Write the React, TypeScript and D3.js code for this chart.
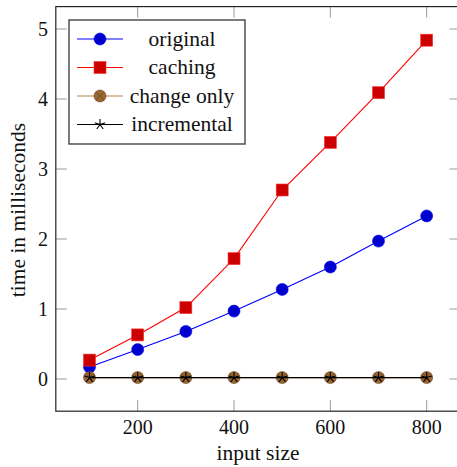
import React from 'react';
import * as d3 from 'd3';

const sizes = [100, 200, 300, 400, 500, 600, 700, 800];
const original = [0.17, 0.42, 0.68, 0.97, 1.28, 1.6, 1.97, 2.33];
const caching = [0.27, 0.63, 1.02, 1.72, 2.7, 3.38, 4.09, 4.84];
const changeOnly = [0.02, 0.02, 0.02, 0.02, 0.02, 0.02, 0.02, 0.02];
const incremental = [0.02, 0.02, 0.02, 0.02, 0.02, 0.02, 0.02, 0.02];
const seriesNames = ['original', 'caching', 'change only', 'incremental'];
const xTicks = [200, 400, 600, 800];
const yTicks = [0, 1, 2, 3, 4, 5];

const FONT = '"Liberation Serif", "DejaVu Serif", serif';

type Mark = 'circle' | 'square' | 'otimes' | 'star';

const series = [
  { name: seriesNames[0], values: original, line: '#0000ff', fill: '#0000cc', stroke: '#0000ff', mark: 'circle' as Mark },
  { name: seriesNames[1], values: caching, line: '#ff0000', fill: '#cc0000', stroke: '#ff3333', mark: 'square' as Mark },
  { name: seriesNames[2], values: changeOnly, line: '#bf8040', fill: '#996633', stroke: '#6b4520', mark: 'otimes' as Mark },
  { name: seriesNames[3], values: incremental, line: '#000000', fill: '#000000', stroke: '#000000', mark: 'star' as Mark },
];

function Marker({ type, x, y, fill, stroke }: { type: Mark; x: number; y: number; fill: string; stroke: string }) {
  if (type === 'circle') return <circle cx={x} cy={y} r={6} fill={fill} stroke={stroke} strokeWidth={0.6} />;
  if (type === 'square') return <rect x={x - 6} y={y - 6} width={12} height={12} fill={fill} stroke={stroke} strokeWidth={0.6} />;
  if (type === 'otimes') {
    const d = 4.2;
    return (
      <g>
        <circle cx={x} cy={y} r={6} fill={fill} stroke={stroke} strokeWidth={0.6} />
        <path d={`M${x - d},${y - d}L${x + d},${y + d}M${x - d},${y + d}L${x + d},${y - d}`} stroke={stroke} strokeWidth={0.6} />
      </g>
    );
  }
  const r = 5.5;
  const p = d3.range(5).map(i => {
    const a = -Math.PI / 2 + (i * 2 * Math.PI) / 5;
    return `M${x},${y}L${x + r * Math.cos(a)},${y + r * Math.sin(a)}`;
  }).join('');
  return <path d={p} stroke={stroke} strokeWidth={1.1} fill="none" />;
}

export default function App() {
  const x = d3.scaleLinear().domain([30, 870]).range([55.8, 460.4]);
  const y = d3.scaleLinear().domain([-0.46, 5.32]).range([411.2, 6.6]);
  const [x0, x1] = x.range();
  const [y0, y1] = y.range();

  const line = d3.line<number>()
    .x((_, i) => x(sizes[i]))
    .y(d => y(d));

  const legX = 69, legY = 20, legW = 176, legH = 124;
  const rowH = 28.5;
  const txt = { fontFamily: FONT };

  return (
    <svg width={457} height={467} style={{ position: 'fixed', left: 0, top: 0, background: '#fff' }}>
      {/* ticks */}
      {xTicks.map(t => (
        <g key={'xt' + t} stroke="#999" strokeWidth={1}>
          <line x1={x(t)} x2={x(t)} y1={y0} y2={y0 - 11} />
          <line x1={x(t)} x2={x(t)} y1={y1} y2={y1 + 11} />
        </g>
      ))}
      {yTicks.map(t => (
        <g key={'yt' + t} stroke="#999" strokeWidth={1}>
          <line x1={x0} x2={x0 + 11} y1={y(t)} y2={y(t)} />
          <line x1={x1} x2={x1 - 11} y1={y(t)} y2={y(t)} />
        </g>
      ))}

      {/* series */}
      {series.map(s => (
        <g key={s.name}>
          <path d={line(s.values) || ''} fill="none" stroke={s.line} strokeWidth={1.1} />
          {s.values.map((v, i) => (
            <Marker key={i} type={s.mark} x={x(sizes[i])} y={y(v)} fill={s.fill} stroke={s.stroke} />
          ))}
        </g>
      ))}

      {/* frame */}
      <rect x={x0} y={y1} width={x1 - x0} height={y0 - y1} fill="none" stroke="#222" strokeWidth={1.2} />

      {/* tick labels */}
      {xTicks.map(t => (
        <text key={'xl' + t} x={x(t)} y={434} fontSize={20} textAnchor="middle" fill="#111" style={txt}>{t}</text>
      ))}
      {yTicks.map(t => (
        <text key={'yl' + t} x={48} y={y(t) + 6.8} fontSize={20} textAnchor="end" fill="#111" style={txt}>{t}</text>
      ))}

      {/* axis labels */}
      <text x={258} y={460} fontSize={21.5} textAnchor="middle" fill="#111" style={txt}>input size</text>
      <text transform={`translate(25,210) rotate(-90)`} fontSize={21.5} textAnchor="middle" fill="#111" style={txt}>time in milliseconds</text>

      {/* legend */}
      <rect x={legX} y={legY} width={legW} height={legH} fill="#fff" stroke="#444" strokeWidth={1.4} />
      {series.map((s, i) => {
        const cy = legY + 19 + i * rowH;
        return (
          <g key={'lg' + s.name}>
            <line x1={77} x2={123} y1={cy} y2={cy} stroke={s.line} strokeWidth={1.1} />
            <Marker type={s.mark} x={100} y={cy} fill={s.fill} stroke={s.stroke} />
            <text x={182} y={cy + 6.5} fontSize={21.5} textAnchor="middle" fill="#111" style={txt}>{s.name}</text>
          </g>
        );
      })}
    </svg>
  );
}
